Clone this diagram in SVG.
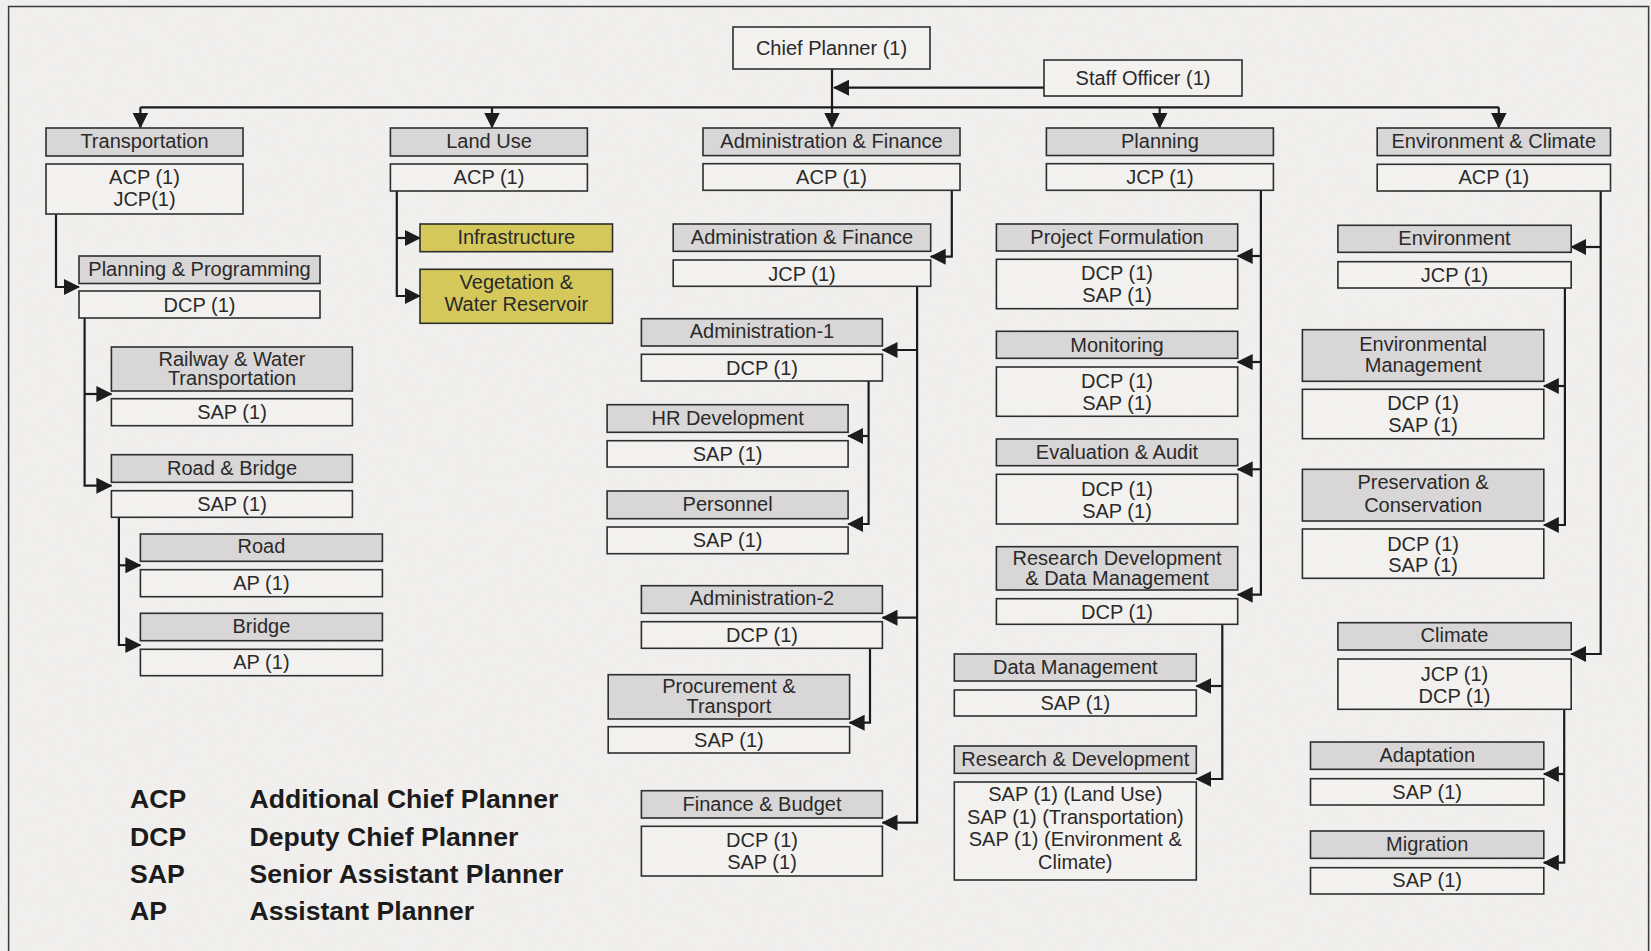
<svg xmlns="http://www.w3.org/2000/svg" width="1651" height="951" viewBox="0 0 1651 951">
  <defs>
    <style>
      .h { fill:#d8d6d7; stroke:#2e2e2e; stroke-width:1.6; }
      .b { fill:#f6f4f2; fill-opacity:0.45; stroke:#2e2e2e; stroke-width:1.6; }
      .y { fill:#d4c85a; stroke:#2e2e2e; stroke-width:1.6; }
      .t { font-family:"Liberation Sans", Arial, sans-serif; font-size:20px; fill:#2a2a2a; text-anchor:middle; }
      .c { fill:none; stroke:#1c1c1c; stroke-width:2.2; marker-end:url(#arr); }
      .bus { fill:none; stroke:#1c1c1c; stroke-width:2.2; }
      .lg { font-family:"Liberation Sans", Arial, sans-serif; font-size:26.6px; font-weight:bold; fill:#1c1c1c; }
    </style>
    <marker id="arr" markerUnits="userSpaceOnUse" markerWidth="16" markerHeight="16" viewBox="0 0 16 16" refX="15" refY="8" orient="auto">
      <path d="M0,0 L16,8 L0,16 z" fill="#1c1c1c"/>
    </marker>
    <filter id="paper" x="0" y="0" width="100%" height="100%">
      <feTurbulence type="fractalNoise" baseFrequency="0.85" numOctaves="2" seed="7"/>
      <feColorMatrix type="matrix" values="0 0 0 0 0.45  0 0 0 0 0.43  0 0 0 0 0.41  0.22 0 0 0 -0.08"/>
    </filter>
  </defs>

  <!-- paper background and frame -->
  <rect x="0" y="0" width="1651" height="951" fill="#f3f1ef"/>
  <rect x="0" y="0" width="1651" height="951" filter="url(#paper)"/>
  <rect x="8.6" y="6.5" width="1640" height="960" fill="none" stroke="#3a3a3a" stroke-width="1.5"/>

  <!-- connectors -->
  <g id="connectors">
    <path class="bus" d="M140.4,107.3 H1498.8"/>
    <path class="c" d="M832,69 V127.5"/>
    <path class="c" d="M1044,87.7 H834"/>
    <path class="c" d="M140.4,107.3 V127.5"/>
    <path class="c" d="M492,107.3 V127.5"/>
    <path class="c" d="M1159.7,107.3 V127.5"/>
    <path class="c" d="M1498.8,107.3 V127.5"/>

    <!-- transportation -->
    <path class="c" d="M56,214 V287 H79"/>
    <path class="c" d="M84.6,318 V485.7 H111.4"/>
    <path class="c" d="M84.6,394 H111.4"/>
    <path class="c" d="M118.9,517.3 V645 H140.4"/>
    <path class="c" d="M118.9,565.3 H140.4"/>

    <!-- land use -->
    <path class="c" d="M396.8,191 V296 H420"/>
    <path class="c" d="M396.8,238 H420"/>

    <!-- administration & finance -->
    <path class="c" d="M951.8,190.3 V256.7 H930.7"/>
    <path class="c" d="M917.1,286.3 V822.7 H882.5"/>
    <path class="c" d="M917.1,350 H882.5"/>
    <path class="c" d="M917.1,617.7 H882.5"/>
    <path class="c" d="M868.6,381 V524 H848.2"/>
    <path class="c" d="M868.6,436 H848.2"/>
    <path class="c" d="M870,648.3 V722.7 H849.6"/>

    <!-- planning -->
    <path class="c" d="M1260.9,190.3 V594.7 H1237.7"/>
    <path class="c" d="M1260.9,256 H1237.7"/>
    <path class="c" d="M1260.9,362 H1237.7"/>
    <path class="c" d="M1260.9,469.3 H1237.7"/>
    <path class="c" d="M1222.3,624.3 V779 H1196.3"/>
    <path class="c" d="M1222.3,686 H1196.3"/>

    <!-- environment & climate -->
    <path class="c" d="M1600.7,191 V654 H1571.2"/>
    <path class="c" d="M1600.7,247 H1571.2"/>
    <path class="c" d="M1564.9,288 V525 H1543.8"/>
    <path class="c" d="M1564.9,386 H1543.8"/>
    <path class="c" d="M1564.2,709.3 V862.7 H1543.8"/>
    <path class="c" d="M1564.2,774 H1543.8"/>
  </g>

  <!-- top level -->
  <g id="chief-planner">
    <rect class="b" x="733" y="27" width="197" height="42"/>
    <text class="t" x="831.5" y="55">Chief Planner (1)</text>
  </g>
  <g id="staff-officer">
    <rect class="b" x="1044" y="60" width="198" height="36"/>
    <text class="t" x="1143" y="85">Staff Officer (1)</text>
  </g>

  <!-- transportation wing -->
  <g id="transportation">
    <rect class="h" x="46" y="128" width="197" height="28"/>
    <text class="t" x="144.5" y="148">Transportation</text>
    <rect class="b" x="46" y="164" width="197" height="50"/>
    <text class="t" x="144.5" y="184">ACP (1)</text>
    <text class="t" x="144.5" y="206">JCP(1)</text>
  </g>
  <g id="planning-programming">
    <rect class="h" x="79" y="256" width="241" height="27.5"/>
    <text class="t" x="199.5" y="276">Planning &amp; Programming</text>
    <rect class="b" x="79" y="291" width="241" height="27"/>
    <text class="t" x="199.5" y="311.5">DCP (1)</text>
  </g>
  <g id="railway-water">
    <rect class="h" x="111.4" y="347" width="241" height="44"/>
    <text class="t" x="232" y="365.5">Railway &amp; Water</text>
    <text class="t" x="232" y="385">Transportation</text>
    <rect class="b" x="111.4" y="398.7" width="241" height="27"/>
    <text class="t" x="232" y="418.5">SAP (1)</text>
  </g>
  <g id="road-bridge">
    <rect class="h" x="111.4" y="454.7" width="241" height="27.6"/>
    <text class="t" x="232" y="474.5">Road &amp; Bridge</text>
    <rect class="b" x="111.4" y="490.7" width="241" height="26.6"/>
    <text class="t" x="232" y="510.5">SAP (1)</text>
  </g>
  <g id="road">
    <rect class="h" x="140.4" y="534" width="242" height="27.3"/>
    <text class="t" x="261.4" y="553">Road</text>
    <rect class="b" x="140.4" y="569.7" width="242" height="27"/>
    <text class="t" x="261.4" y="589.5">AP (1)</text>
  </g>
  <g id="bridge">
    <rect class="h" x="140.4" y="613.3" width="242" height="27.4"/>
    <text class="t" x="261.4" y="632.5">Bridge</text>
    <rect class="b" x="140.4" y="649.3" width="242" height="26.4"/>
    <text class="t" x="261.4" y="669">AP (1)</text>
  </g>

  <!-- land use wing -->
  <g id="land-use">
    <rect class="h" x="390.4" y="128" width="197" height="28"/>
    <text class="t" x="489" y="148">Land Use</text>
    <rect class="b" x="390.4" y="164" width="197" height="27"/>
    <text class="t" x="489" y="184">ACP (1)</text>
  </g>
  <g id="infrastructure">
    <rect class="y" x="420" y="224" width="192.5" height="27.7"/>
    <text class="t" x="516.3" y="244">Infrastructure</text>
  </g>
  <g id="vegetation-water">
    <rect class="y" x="420" y="269.3" width="192.5" height="54"/>
    <text class="t" x="516.3" y="289">Vegetation &amp;</text>
    <text class="t" x="516.3" y="311">Water Reservoir</text>
  </g>

  <!-- administration & finance wing -->
  <g id="admin-finance">
    <rect class="h" x="703" y="128" width="257" height="27.6"/>
    <text class="t" x="831.5" y="148">Administration &amp; Finance</text>
    <rect class="b" x="703" y="163.7" width="257" height="26.6"/>
    <text class="t" x="831.5" y="184">ACP (1)</text>
  </g>
  <g id="admin-finance-jcp">
    <rect class="h" x="673.2" y="224" width="257.5" height="27.3"/>
    <text class="t" x="802" y="244">Administration &amp; Finance</text>
    <rect class="b" x="673.2" y="260" width="257.5" height="26.3"/>
    <text class="t" x="802" y="280.5">JCP (1)</text>
  </g>
  <g id="administration-1">
    <rect class="h" x="641.4" y="318.7" width="241" height="27.3"/>
    <text class="t" x="762" y="337.5">Administration-1</text>
    <rect class="b" x="641.4" y="354.3" width="241" height="26.7"/>
    <text class="t" x="762" y="374.5">DCP (1)</text>
  </g>
  <g id="hr-development">
    <rect class="h" x="607.1" y="404.7" width="241" height="27.6"/>
    <text class="t" x="727.6" y="424.5">HR Development</text>
    <rect class="b" x="607.1" y="440.7" width="241" height="26.3"/>
    <text class="t" x="727.6" y="460.5">SAP (1)</text>
  </g>
  <g id="personnel">
    <rect class="h" x="607.1" y="491" width="241" height="27.7"/>
    <text class="t" x="727.6" y="510.5">Personnel</text>
    <rect class="b" x="607.1" y="527" width="241" height="26.7"/>
    <text class="t" x="727.6" y="547">SAP (1)</text>
  </g>
  <g id="administration-2">
    <rect class="h" x="641.4" y="585.7" width="241" height="27.6"/>
    <text class="t" x="762" y="605">Administration-2</text>
    <rect class="b" x="641.4" y="621.7" width="241" height="26.6"/>
    <text class="t" x="762" y="642">DCP (1)</text>
  </g>
  <g id="procurement-transport">
    <rect class="h" x="608.2" y="674.7" width="241.4" height="44.3"/>
    <text class="t" x="728.9" y="692.5">Procurement &amp;</text>
    <text class="t" x="728.9" y="713">Transport</text>
    <rect class="b" x="608.2" y="726.7" width="241.4" height="26.3"/>
    <text class="t" x="728.9" y="747">SAP (1)</text>
  </g>
  <g id="finance-budget">
    <rect class="h" x="641.4" y="790.7" width="241" height="27.3"/>
    <text class="t" x="762" y="810.5">Finance &amp; Budget</text>
    <rect class="b" x="641.4" y="826.3" width="241" height="49.7"/>
    <text class="t" x="762" y="847">DCP (1)</text>
    <text class="t" x="762" y="869">SAP (1)</text>
  </g>

  <!-- planning wing -->
  <g id="planning">
    <rect class="h" x="1046.4" y="128" width="227" height="27.5"/>
    <text class="t" x="1159.9" y="148">Planning</text>
    <rect class="b" x="1046.4" y="163.7" width="227" height="26.6"/>
    <text class="t" x="1159.9" y="184">JCP (1)</text>
  </g>
  <g id="project-formulation">
    <rect class="h" x="996.4" y="224" width="241.3" height="27"/>
    <text class="t" x="1117" y="243.5">Project Formulation</text>
    <rect class="b" x="996.4" y="259.3" width="241.3" height="49.4"/>
    <text class="t" x="1117" y="280">DCP (1)</text>
    <text class="t" x="1117" y="302">SAP (1)</text>
  </g>
  <g id="monitoring">
    <rect class="h" x="996.4" y="331.3" width="241.3" height="27"/>
    <text class="t" x="1117" y="351.5">Monitoring</text>
    <rect class="b" x="996.4" y="367" width="241.3" height="49.3"/>
    <text class="t" x="1117" y="387.5">DCP (1)</text>
    <text class="t" x="1117" y="409.5">SAP (1)</text>
  </g>
  <g id="evaluation-audit">
    <rect class="h" x="996.4" y="439" width="241.3" height="26.7"/>
    <text class="t" x="1117" y="458.5">Evaluation &amp; Audit</text>
    <rect class="b" x="996.4" y="474.3" width="241.3" height="49.7"/>
    <text class="t" x="1117" y="495.5">DCP (1)</text>
    <text class="t" x="1117" y="517.5">SAP (1)</text>
  </g>
  <g id="research-data-management">
    <rect class="h" x="996.4" y="546.7" width="241.3" height="43.3"/>
    <text class="t" x="1117" y="565">Research Development</text>
    <text class="t" x="1117" y="584.5">&amp; Data Management</text>
    <rect class="b" x="996.4" y="598.7" width="241.3" height="25.6"/>
    <text class="t" x="1117" y="618.5">DCP (1)</text>
  </g>
  <g id="data-management">
    <rect class="h" x="954.3" y="654" width="242" height="27"/>
    <text class="t" x="1075.3" y="673.5">Data Management</text>
    <rect class="b" x="954.3" y="690" width="242" height="26"/>
    <text class="t" x="1075.3" y="710">SAP (1)</text>
  </g>
  <g id="research-development">
    <rect class="h" x="954.3" y="746" width="242" height="27.3"/>
    <text class="t" x="1075.3" y="766">Research &amp; Development</text>
    <rect class="b" x="954.3" y="782" width="242" height="98"/>
    <text class="t" x="1075.3" y="801">SAP (1) (Land Use)</text>
    <text class="t" x="1075.3" y="823.5">SAP (1) (Transportation)</text>
    <text class="t" x="1075.3" y="846">SAP (1) (Environment &amp;</text>
    <text class="t" x="1075.3" y="868.5">Climate)</text>
  </g>

  <!-- environment & climate wing -->
  <g id="environment-climate">
    <rect class="h" x="1377.2" y="128" width="233.3" height="27.6"/>
    <text class="t" x="1493.8" y="148">Environment &amp; Climate</text>
    <rect class="b" x="1377.2" y="164.3" width="233.3" height="26.7"/>
    <text class="t" x="1493.8" y="184">ACP (1)</text>
  </g>
  <g id="environment">
    <rect class="h" x="1337.9" y="225.3" width="233.3" height="27"/>
    <text class="t" x="1454.5" y="245">Environment</text>
    <rect class="b" x="1337.9" y="261.7" width="233.3" height="26.3"/>
    <text class="t" x="1454.5" y="281.5">JCP (1)</text>
  </g>
  <g id="environmental-management">
    <rect class="h" x="1302.4" y="329.7" width="241.4" height="51.6"/>
    <text class="t" x="1423.1" y="350.5">Environmental</text>
    <text class="t" x="1423.1" y="371.5">Management</text>
    <rect class="b" x="1302.4" y="389.3" width="241.4" height="49.4"/>
    <text class="t" x="1423.1" y="410">DCP (1)</text>
    <text class="t" x="1423.1" y="431.5">SAP (1)</text>
  </g>
  <g id="preservation-conservation">
    <rect class="h" x="1302.4" y="469.3" width="241.4" height="51.7"/>
    <text class="t" x="1423.1" y="489">Preservation &amp;</text>
    <text class="t" x="1423.1" y="511.5">Conservation</text>
    <rect class="b" x="1302.4" y="529" width="241.4" height="49.3"/>
    <text class="t" x="1423.1" y="550.5">DCP (1)</text>
    <text class="t" x="1423.1" y="572">SAP (1)</text>
  </g>
  <g id="climate">
    <rect class="h" x="1337.9" y="622.7" width="233.3" height="27.3"/>
    <text class="t" x="1454.5" y="641.5">Climate</text>
    <rect class="b" x="1337.9" y="659" width="233.3" height="50.3"/>
    <text class="t" x="1454.5" y="680.5">JCP (1)</text>
    <text class="t" x="1454.5" y="703">DCP (1)</text>
  </g>
  <g id="adaptation">
    <rect class="h" x="1310.5" y="742" width="233.3" height="27.3"/>
    <text class="t" x="1427.2" y="762">Adaptation</text>
    <rect class="b" x="1310.5" y="778.7" width="233.3" height="26.3"/>
    <text class="t" x="1427.2" y="798.5">SAP (1)</text>
  </g>
  <g id="migration">
    <rect class="h" x="1310.5" y="831" width="233.3" height="27.3"/>
    <text class="t" x="1427.2" y="851">Migration</text>
    <rect class="b" x="1310.5" y="867.7" width="233.3" height="26.3"/>
    <text class="t" x="1427.2" y="887">SAP (1)</text>
  </g>

  <!-- abbreviations -->
  <g id="legend">
    <text class="lg" x="130" y="807.5">ACP</text>
    <text class="lg" x="249.5" y="807.5">Additional Chief Planner</text>
    <text class="lg" x="130" y="845.5">DCP</text>
    <text class="lg" x="249.5" y="845.5">Deputy Chief Planner</text>
    <text class="lg" x="130" y="882.5">SAP</text>
    <text class="lg" x="249.5" y="882.5">Senior Assistant Planner</text>
    <text class="lg" x="130" y="920">AP</text>
    <text class="lg" x="249.5" y="920">Assistant Planner</text>
  </g>
</svg>
